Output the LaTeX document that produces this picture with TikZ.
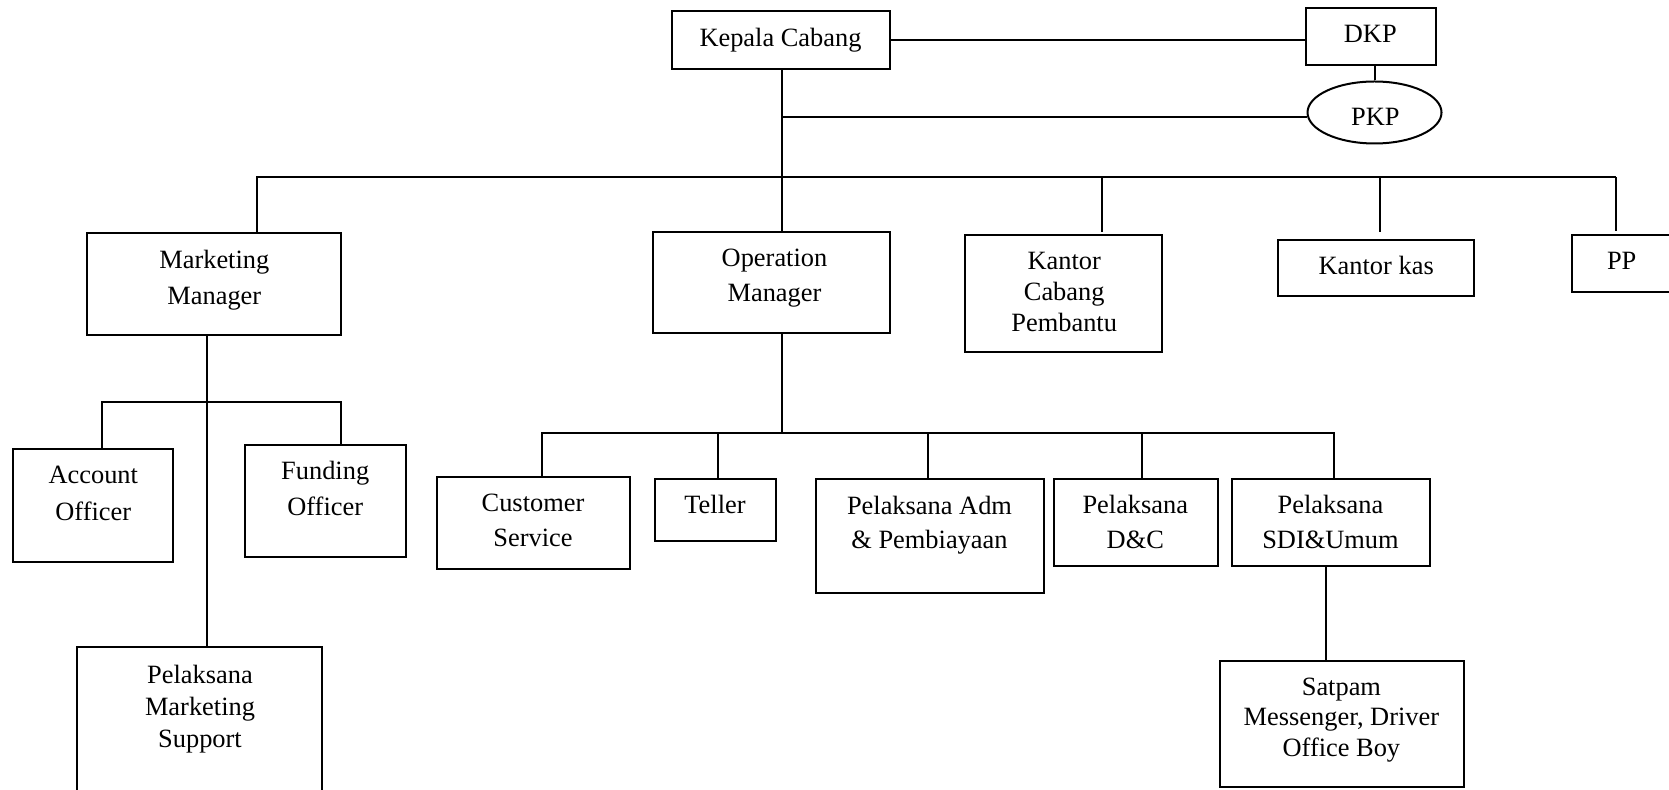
\documentclass[tikz,border=0pt]{standalone}
\usepackage{fontspec}
\setmainfont{Liberation Serif}
\usetikzlibrary{fit,shapes.geometric}
\begin{document}
\begin{tikzpicture}[x=0.5pt,y=-0.5pt,
  line width=1pt,
  orgbox/.style={draw, inner sep=0pt, line width=1pt},
  lbl/.style={inner sep=0pt, align=center, font=\fontsize{13.2pt}{#1}\selectfont},
  lbl/.default=18pt,
  link/.style={line width=1pt}]
\useasboundingbox (0,0) rectangle (1669,790);
\clip (0,0) rectangle (1669,790);

% boxes
\node[orgbox, fit={(671.5,11) (889.5,69)}] (kc) {};
\node[orgbox, fit={(1305.5,8.5) (1436,65.5)}] (dkp) {};
\node[draw, ellipse, inner sep=0pt, minimum width=67pt, minimum height=31pt] (pkp) at (1374.5,112.5) {};
\node[orgbox, fit={(87.3,233.3) (341.3,335)}] (mm) {};
\node[orgbox, fit={(653.3,231.7) (890,333.3)}] (om) {};
\node[orgbox, fit={(965,235.5) (1161.7,352.5)}] (kcp) {};
\node[orgbox, fit={(1277.5,240) (1474,296.3)}] (kk) {};
\node[orgbox, fit={(1572,235) (1700,291.7)}] (pp) {};
\node[orgbox, fit={(13.3,449.3) (173.3,561.7)}] (ao) {};
\node[orgbox, fit={(245.3,444.7) (406,556.7)}] (fo) {};
\node[orgbox, fit={(77.3,647.3) (321.7,810)}] (pms) {};
\node[orgbox, fit={(437.3,476.7) (630,568.7)}] (cs) {};
\node[orgbox, fit={(655.3,478.7) (776,540.7)}] (tel) {};
\node[orgbox, fit={(815.7,478.7) (1044.3,592.7)}] (adm) {};
\node[orgbox, fit={(1053.6,479) (1217.8,566.3)}] (dc) {};
\node[orgbox, fit={(1231.5,479) (1430,566.3)}] (sdi) {};
\node[orgbox, fit={(1219.5,660.7) (1463.6,786.7)}] (sat) {};

% texts
\node[lbl] (kc-t) at (780.5,39.5) {\strut Kepala Cabang};
\node[lbl] (dkp-t) at (1370.3,35.5) {\strut DKP};
\node[lbl] (pkp-t) at (1375.4,118.5) {\strut PKP};
\node[lbl=18pt] (mm-t) at (214.3,279.1) {\strut Marketing\\\strut Manager};
\node[lbl=17.5pt] (om-t) at (774.5,277.2) {\strut Operation\\\strut Manager};
\node[lbl=15.5pt] (kcp-t) at (1064.2,294.8) {\strut Kantor\\\strut Cabang\\\strut Pembantu};
\node[lbl] (kk-t) at (1376.2,267.8) {\strut Kantor kas};
\node[lbl] (pp-t) at (1621.7,262.3) {\strut PP};
\node[lbl=18pt] (ao-t) at (93.3,494.8) {\strut Account\\\strut Officer};
\node[lbl=18pt] (fo-t) at (325.2,490.1) {\strut Funding\\\strut Officer};
\node[lbl=16pt] (pms-t) at (200,708.9) {\strut Pelaksana\\\strut Marketing\\\strut Support};
\node[lbl=17.5pt] (cs-t) at (533,522.2) {\strut Customer\\\strut Service};
\node[lbl] (tel-t) at (715,506.1) {\strut Teller};
\node[lbl=17pt] (adm-t) at (929.5,524.5) {\strut Pelaksana Adm\\\strut \& Pembiayaan};
\node[lbl=17.5pt] (dc-t) at (1135.3,523.8) {\strut Pelaksana\\\strut D\&C};
\node[lbl=17.5pt] (sdi-t) at (1330.5,523.8) {\strut Pelaksana\\\strut SDI\&Umum};
\node[lbl=15.25pt] (sat-t) at (1341.4,719.4) {\strut Satpam\\\strut Messenger, Driver\\\strut Office Boy};

% junction coordinates
\coordinate (jk) at (781.7,177.3);
\coordinate (b1) at (256.7,177.3);
\coordinate (b2) at (1102,177.3);
\coordinate (b3) at (1379.8,177.3);
\coordinate (b4) at (1616,177.3);
\coordinate (mj) at (207.3,402.3);
\coordinate (ao1) at (101.7,402.3);
\coordinate (fo1) at (341,402.3);
\coordinate (oj) at (781.7,432.7);
\coordinate (c1) at (542,432.7);
\coordinate (c2) at (717.7,432.7);
\coordinate (c3) at (927.7,432.7);
\coordinate (c4) at (1142,432.7);
\coordinate (c5) at (1334,432.7);
\coordinate (sx) at (1326.2,600);

% connectors
\draw[link] (kc.south -| jk) -- (om.north -| jk);
\draw[link] (kc.east) -- (kc.east -| dkp.west);
\draw[link] (pkp.north) -- (pkp.north |- dkp.south);
\draw[link] (pkp.184) -- (pkp.184 -| jk);
\draw[link] (b1 |- mm.north) -- (b1) -- (b4);
\draw[link, shorten >=1.6pt] (b4) -- (b4 |- pp.north);
\draw[link, shorten >=3.5pt] (b3) -- (b3 |- kk.north);
\draw[link, shorten >=1.4pt] (b2) -- (b2 |- kcp.north);
\draw[link] (mj |- mm.south) -- (mj |- pms.north);
\draw[link] (ao1 |- ao.north) -- (ao1) -- (fo1) -- (fo1 |- fo.north);
\draw[link] (oj |- om.south) -- (oj);
\draw[link] (c1 |- cs.north) -- (c1) -- (c5) -- (c5 |- sdi.north);
\draw[link] (c2) -- (c2 |- tel.north);
\draw[link] (c3) -- (c3 |- adm.north);
\draw[link] (c4) -- (c4 |- dc.north);
\draw[link] (sx |- sdi.south) -- (sx |- sat.north);
\end{tikzpicture}
\end{document}
